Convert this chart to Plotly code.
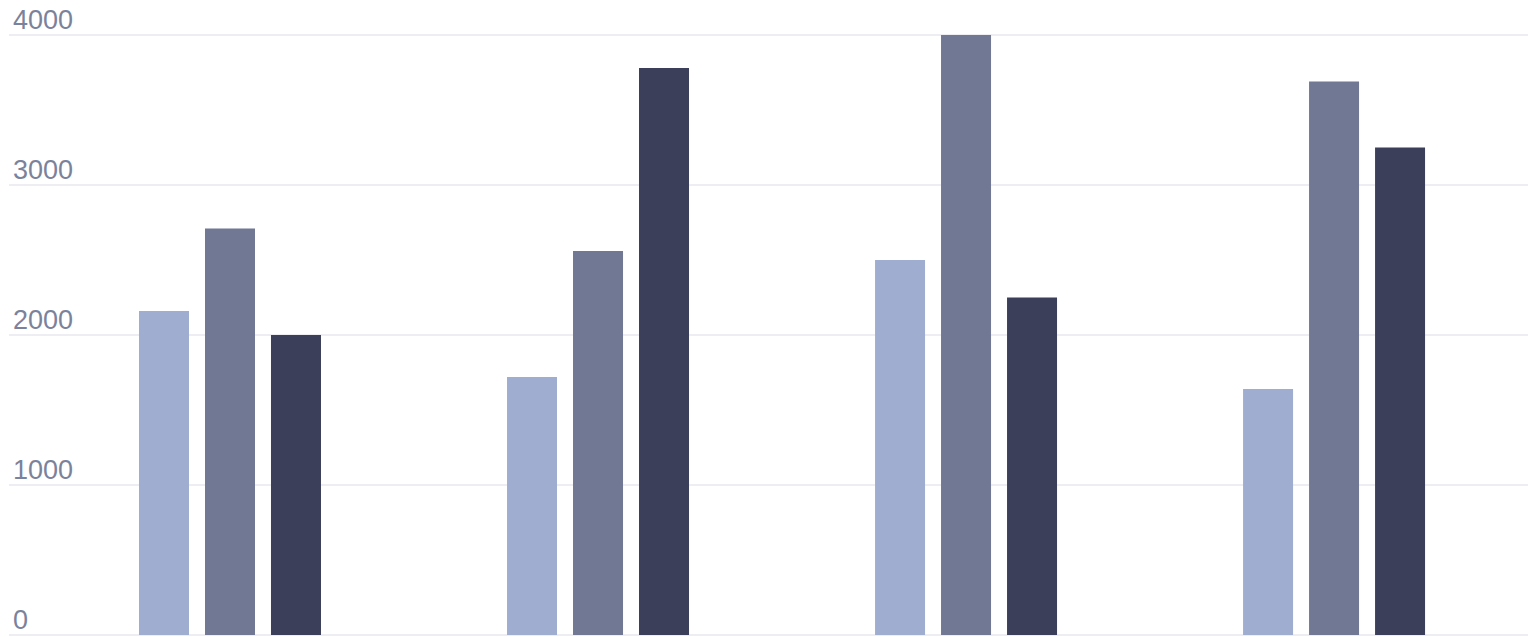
import plotly.graph_objects as go

categories = ["Q1", "Q2", "Q3", "Q4"]
series_a = [2160, 1720, 2500, 1640]
series_b = [2710, 2560, 4000, 3690]
series_c = [2000, 3780, 2250, 3250]
y_ticks = [0, 1000, 2000, 3000, 4000]

colors = ["#9FADD0", "#707894", "#3B3F59"]
label_color = "#7A829C"

fig = go.Figure()
for name, vals, col in zip(["A", "B", "C"], [series_a, series_b, series_c], colors):
    fig.add_trace(go.Bar(x=categories, y=vals, name=name, marker=dict(color=col, line=dict(width=0))))

for v in y_ticks:
    fig.add_annotation(
        x=0, xref="paper", y=v, yref="y", text=str(v), showarrow=False,
        xanchor="left", yanchor="middle", xshift=2, yshift=15,
        font=dict(family="Liberation Sans", size=27, color=label_color),
    )

fig.update_layout(
    width=1528, height=637,
    margin=dict(l=9, r=0, t=29, b=0),
    paper_bgcolor="white", plot_bgcolor="white",
    showlegend=False,
    barmode="group",
    bargap=0.462, bargroupgap=0.2424,
    font=dict(family="Liberation Sans", size=27, color=label_color),
)
fig.update_xaxes(
    showticklabels=False, showgrid=False, zeroline=False, showline=False,
    range=[-0.6005, 3.527],
)
fig.update_yaxes(
    range=[-13, 4040], tickvals=y_ticks, showticklabels=False,
    showgrid=True, gridcolor="#EEEEF2", gridwidth=2,
    zeroline=True, zerolinecolor="#EEEEF2", zerolinewidth=2,
    showline=False, ticks="",
)
fig.write_html(
    "out.html",
    config={"displayModeBar": False},
    post_script="document.body.style.margin='0';document.body.style.overflow='hidden';",
)
